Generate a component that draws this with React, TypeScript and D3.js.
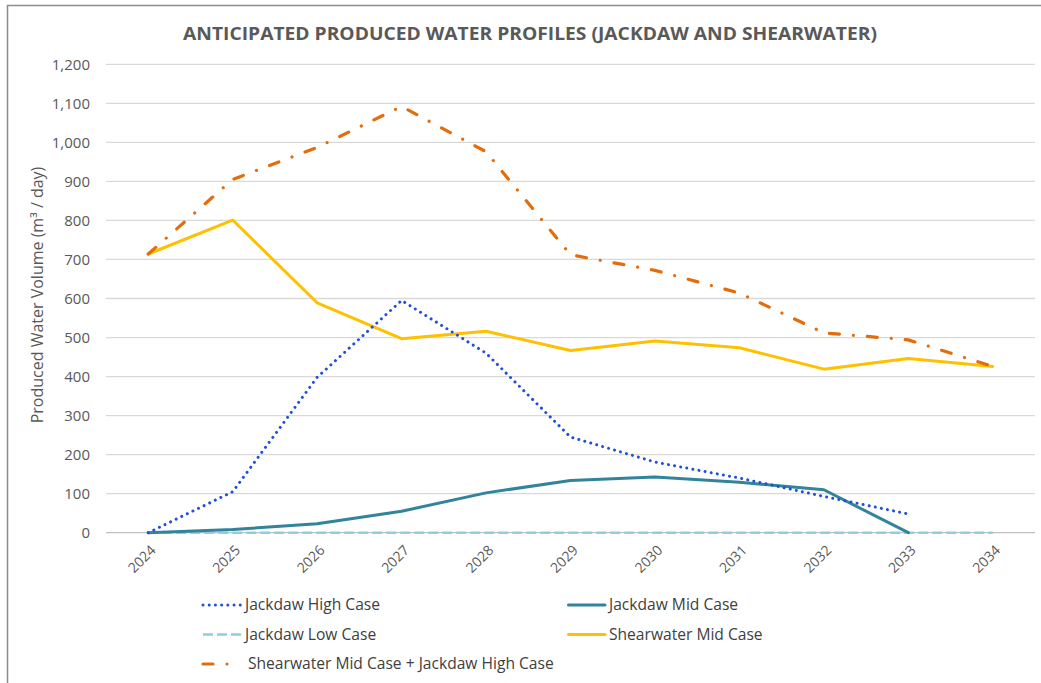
import * as d3 from 'd3'
import React, { useEffect, useRef } from 'react'

const years = ['2024', '2025', '2026', '2027', '2028', '2029', '2030', '2031', '2032', '2033', '2034']
const jackdawHigh = [0, 105, 398, 595, 460, 245, 181, 140, 93, 48]
const jackdawMid = [0, 8, 23, 55, 102, 134, 143, 129, 110, 0]
const jackdawLow = [0, 0, 0, 0, 0, 0, 0, 0, 0, 0, 0]
const shearwaterMid = [714, 801, 589, 497, 516, 467, 491, 474, 419, 446, 426]
const combined = [714, 905, 987, 1092, 976, 712, 672, 614, 512, 494, 426]
const yTicks = [0, 100, 200, 300, 400, 500, 600, 700, 800, 900, 1000, 1100, 1200]

const FONT = '"Open Sans", sans-serif'

const series = [
  { name: 'Jackdaw Low Case', values: jackdawLow, color: '#92CDDC', width: 2.5, dash: '10 4', cap: 'butt' },
  { name: 'Jackdaw Mid Case', values: jackdawMid, color: '#31849B', width: 3, dash: null, cap: 'round' },
  { name: 'Shearwater Mid Case', values: shearwaterMid, color: '#FFC000', width: 3, dash: null, cap: 'round' },
  { name: 'Jackdaw High Case', values: jackdawHigh, color: '#2050D8', width: 3, dash: '0.01 6.2', cap: 'round' },
  { name: 'Shearwater Mid Case + Jackdaw High Case', values: combined, color: '#E46C0A', width: 3.2, dash: '10 14 0.01 14', cap: 'round' }
]

// legend order as in the picture: [series name, column, row]
const legendItems: [string, number, number][] = [
  ['Jackdaw High Case', 0, 0],
  ['Jackdaw Mid Case', 1, 0],
  ['Jackdaw Low Case', 0, 1],
  ['Shearwater Mid Case', 1, 1],
  ['Shearwater Mid Case + Jackdaw High Case', 0, 2]
]

export default function App() {
  const ref = useRef<SVGSVGElement>(null)

  useEffect(() => {
    const svg = d3.select(ref.current)
    svg.selectAll('*').remove()

    const x = d3.scaleBand().domain(years).range([106, 1035])
    const y = d3.scaleLinear().domain([0, 1200]).range([532.7, 64.3])
    const cx = (i: number) => (x(years[i]) as number) + x.bandwidth() / 2

    //chart border
    svg
      .append('rect')
      .attr('x', 7.5)
      .attr('y', 5.5)
      .attr('width', 1100)
      .attr('height', 1000)
      .attr('fill', '#fff')
      .attr('stroke', '#8c8c8c')
      .attr('stroke-width', 1.5)

    //title
    svg
      .append('text')
      .attr('x', 530)
      .attr('y', 40)
      .attr('text-anchor', 'middle')
      .attr('font-family', FONT)
      .attr('font-weight', 'bold')
      .attr('font-size', 18)
      .attr('fill', '#595959')
      .attr('textLength', 694)
      .attr('lengthAdjust', 'spacingAndGlyphs')
      .text('ANTICIPATED PRODUCED WATER PROFILES (JACKDAW AND SHEARWATER)')

    //gridlines
    svg
      .append('g')
      .selectAll('line')
      .data(yTicks.filter(t => t > 0))
      .join('line')
      .attr('x1', 106)
      .attr('x2', 1035)
      .attr('y1', d => y(d))
      .attr('y2', d => y(d))
      .attr('stroke', '#D9D9D9')
      .attr('stroke-width', 1.3)

    svg
      .append('line')
      .attr('x1', 106)
      .attr('x2', 1035)
      .attr('y1', y(0))
      .attr('y2', y(0))
      .attr('stroke', '#BFBFBF')
      .attr('stroke-width', 1.3)

    //y tick labels
    svg
      .append('g')
      .selectAll('text')
      .data(yTicks)
      .join('text')
      .attr('x', 90)
      .attr('y', d => y(d))
      .attr('dy', '0.35em')
      .attr('text-anchor', 'end')
      .attr('font-family', FONT)
      .attr('font-size', 15)
      .attr('fill', '#595959')
      .text(d => d3.format(',')(d))

    //y axis title
    svg
      .append('text')
      .attr('transform', 'translate(43,295) rotate(-90)')
      .attr('text-anchor', 'middle')
      .attr('font-family', FONT)
      .attr('font-size', 16)
      .attr('fill', '#595959')
      .text('Produced Water Volume (m³ / day)')

    //x tick labels
    svg
      .append('g')
      .selectAll('text')
      .data(years)
      .join('text')
      .attr('transform', (d, i) => `translate(${cx(i) + 5},${y(0) + 15}) rotate(-45)`)
      .attr('text-anchor', 'end')
      .attr('dy', '0.35em')
      .attr('font-family', FONT)
      .attr('font-size', 14)
      .attr('fill', '#595959')
      .text(d => d)

    //lines
    const line = d3
      .line<number>()
      .x((d, i) => cx(i))
      .y(d => y(d))

    series.forEach(s => {
      svg
        .append('path')
        .attr('d', line(s.values))
        .attr('fill', 'none')
        .attr('stroke', s.color)
        .attr('stroke-width', s.width)
        .attr('stroke-dasharray', s.dash)
        .attr('stroke-linecap', s.cap)
        .attr('stroke-linejoin', 'round')
    })

    //legend
    const legend = svg.append('g')
    legendItems.forEach(([name, col, row]) => {
      const s = series.find(d => d.name === name)!
      const lx = col === 0 ? 203 : 567
      const ly = 605 + row * 29.5
      legend
        .append('line')
        .attr('x1', lx + (s.cap === 'round' && !s.dash ? 1.5 : 0))
        .attr('x2', lx + 38)
        .attr('y1', ly)
        .attr('y2', ly)
        .attr('stroke', s.color)
        .attr('stroke-width', s.width)
        .attr('stroke-dasharray', s.dash)
        .attr('stroke-linecap', s.cap)
      legend
        .append('text')
        .attr('x', lx + (row === 2 ? 45 : 42))
        .attr('y', ly)
        .attr('dy', '0.35em')
        .attr('font-family', FONT)
        .attr('font-size', 15.6)
        .attr('fill', '#404040')
        .text(name)
    })
  }, [])

  return (
    <svg
      ref={ref}
      width={1041}
      height={683}
      style={{ position: 'absolute', left: 0, top: 0, background: '#fff' }}
    />
  )
}
